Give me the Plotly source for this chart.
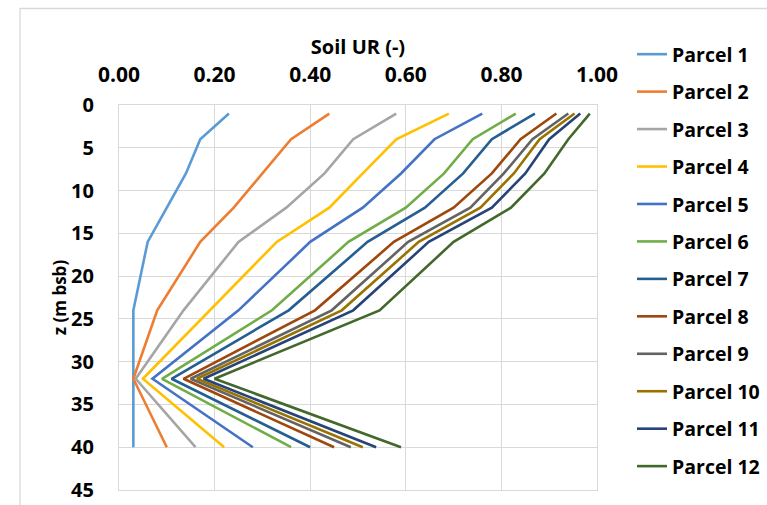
import plotly.graph_objects as go

# Depth below surface (m bsb) at which the soil utilisation ratio is evaluated
depth = [1, 4, 8, 12, 16, 24, 32, 40]

parcel_names = [f"Parcel {i}" for i in range(1, 13)]

# Soil UR (-) per parcel, one value per depth
ur_p1 = [0.23, 0.17, 0.14, 0.10, 0.06, 0.03, 0.03, 0.03]
ur_p2 = [0.44, 0.36, 0.30, 0.24, 0.17, 0.08, 0.03, 0.10]
ur_p3 = [0.58, 0.49, 0.43, 0.35, 0.25, 0.135, 0.035, 0.16]
ur_p4 = [0.69, 0.58, 0.51, 0.44, 0.33, 0.19, 0.05, 0.22]
ur_p5 = [0.76, 0.66, 0.59, 0.51, 0.40, 0.25, 0.07, 0.28]
ur_p6 = [0.83, 0.74, 0.68, 0.60, 0.48, 0.32, 0.09, 0.36]
ur_p7 = [0.87, 0.78, 0.72, 0.64, 0.52, 0.355, 0.11, 0.40]
ur_p8 = [0.915, 0.84, 0.78, 0.70, 0.575, 0.41, 0.135, 0.45]
ur_p9 = [0.94, 0.865, 0.805, 0.735, 0.605, 0.445, 0.15, 0.485]
ur_p10 = [0.953, 0.88, 0.826, 0.756, 0.627, 0.466, 0.163, 0.51]
ur_p11 = [0.965, 0.90, 0.85, 0.78, 0.648, 0.49, 0.177, 0.538]
ur_p12 = [0.985, 0.94, 0.89, 0.82, 0.70, 0.545, 0.20, 0.59]

ur_values = [ur_p1, ur_p2, ur_p3, ur_p4, ur_p5, ur_p6,
             ur_p7, ur_p8, ur_p9, ur_p10, ur_p11, ur_p12]

colors = ["#5B9BD5", "#ED7D31", "#A5A5A5", "#FFC000", "#4472C4", "#70AD47",
          "#255E91", "#9E480E", "#636363", "#997300", "#264478", "#43682B"]

x_ticks = [0.0, 0.2, 0.4, 0.6, 0.8, 1.0]
y_ticks = [0, 5, 10, 15, 20, 25, 30, 35, 40, 45]

FONT = "Open Sans"
GRID = "#D9D9D9"

fig = go.Figure()
for name, vals, col in zip(parcel_names, ur_values, colors):
    fig.add_trace(go.Scatter(
        x=vals, y=depth, mode="lines", name=name, legendgroup=name,
        line=dict(color=col, width=2.6),
    ))

W, H = 767, 505
L, R, T, B = 119, 170, 105, 15

def px_x(px):
    return (px - L) / (W - L - R)

def px_y(py):
    return (H - B - py) / (H - T - B)

fig.update_layout(
    width=W, height=H,
    margin=dict(l=L, r=R, t=T, b=B, autoexpand=False),
    paper_bgcolor="white", plot_bgcolor="white",
    font=dict(family=FONT, color="#000000", size=19, weight="bold"),
    showlegend=True,
    legend=dict(
        x=px_x(632), xanchor="left",
        y=px_y(35), yanchor="top",
        tracegroupgap=9.1,
        maxheight=480,
        font=dict(family=FONT, size=19.5, weight="bold", color="#000000"),
        bgcolor="rgba(0,0,0,0)",
    ),
    xaxis=dict(
        side="top", range=[0, 1],
        tickvals=x_ticks, tickformat=".2f",
        showgrid=True, gridcolor=GRID, gridwidth=1.3,
        showline=True, linecolor=GRID, linewidth=1.3, mirror=True,
        zeroline=False, ticks="",
        ticklabelstandoff=13,
        tickfont=dict(family=FONT, size=21, weight="bold"),
        title=dict(text="Soil UR (-)", standoff=0,
                   font=dict(family=FONT, size=20, weight="bold")),
    ),
    yaxis=dict(
        range=[45, 0], tickvals=y_ticks,
        showgrid=True, gridcolor=GRID, gridwidth=1.3,
        showline=True, linecolor=GRID, linewidth=1.3, mirror=True,
        zeroline=False, ticks="",
        ticklabelstandoff=20,
        tickfont=dict(family=FONT, size=20, weight="bold"),
        title=dict(text="z (m bsb)", standoff=0,
                   font=dict(family=FONT, size=17, weight="bold")),
    ),
    shapes=[
        # outer chart-area border
        dict(type="rect", xref="paper", yref="paper",
             x0=px_x(20), x1=px_x(800), y0=px_y(530), y1=px_y(8.5),
             line=dict(color=GRID, width=1.3), fillcolor="rgba(0,0,0,0)",
             layer="below"),
    ],
)

fig.write_html("out.html")
